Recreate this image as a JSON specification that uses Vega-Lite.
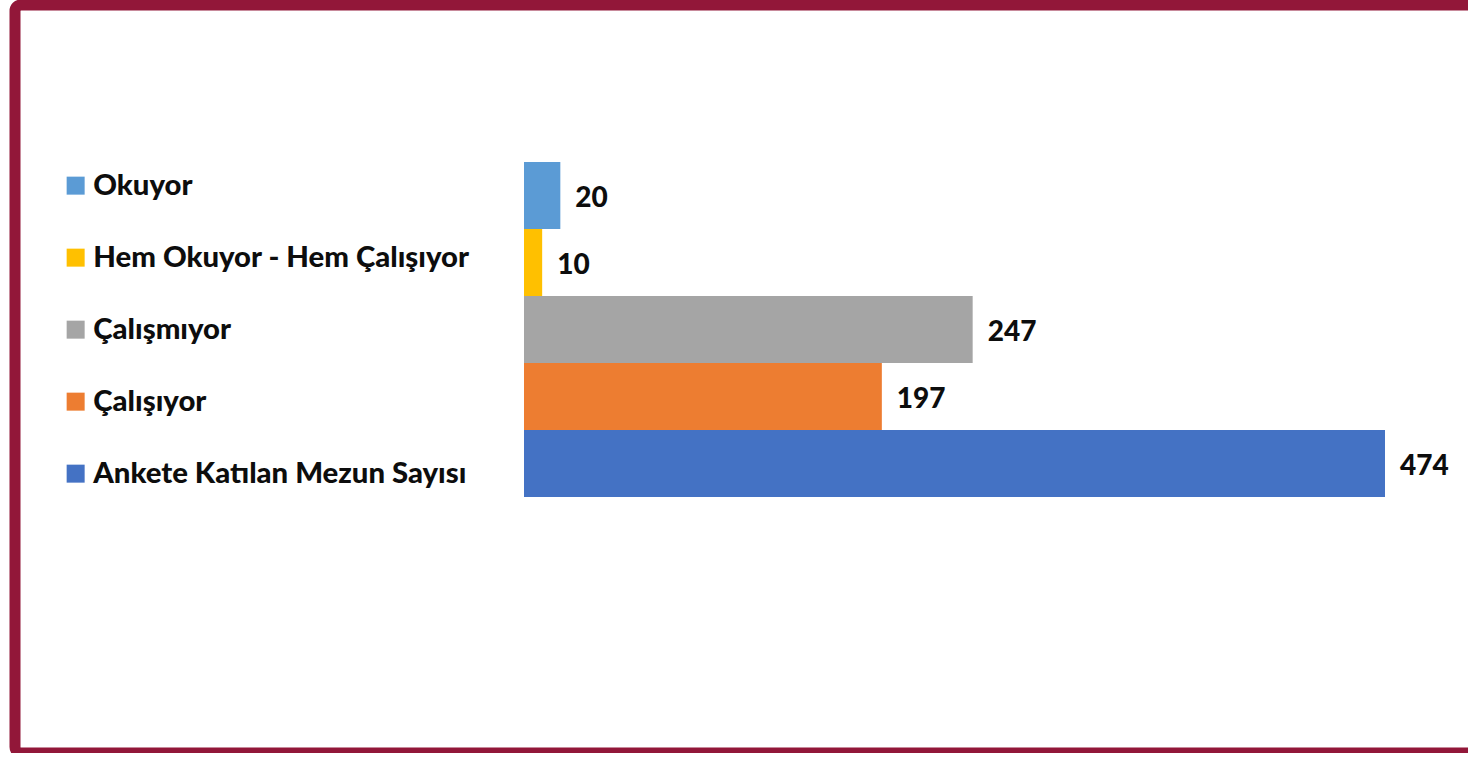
{
  "$schema": "https://vega.github.io/schema/vega-lite/v6.json",
  "autosize": {"type": "none"},
  "padding": {"left": 15, "top": 5, "right": 0, "bottom": 0},
  "width": 1470,
  "height": 748,
  "background": "white",
  "config": {
    "view": {"stroke": "#921739", "strokeWidth": 11, "cornerRadius": 6},
    "font": "Lato"
  },
  "data": {
    "values": [
      {"kategori": "Okuyor", "sayi": 20},
      {"kategori": "Hem Okuyor - Hem Çalışıyor", "sayi": 10},
      {"kategori": "Çalışmıyor", "sayi": 247},
      {"kategori": "Çalışıyor", "sayi": 197},
      {"kategori": "Ankete Katılan Mezun Sayısı", "sayi": 474}
    ]
  },
  "encoding": {
    "y": {
      "field": "kategori",
      "type": "nominal",
      "sort": ["Okuyor", "Hem Okuyor - Hem Çalışıyor", "Çalışmıyor", "Çalışıyor", "Ankete Katılan Mezun Sayısı"],
      "scale": {"range": [157, 492], "paddingInner": 0, "paddingOuter": 0},
      "axis": null
    },
    "x": {
      "field": "sayi",
      "type": "quantitative",
      "scale": {"range": [509, 1370], "nice": false, "zero": true},
      "axis": null
    }
  },
  "layer": [
    {
      "mark": {"type": "bar"},
      "encoding": {
        "color": {
          "field": "kategori",
          "type": "nominal",
          "sort": ["Okuyor", "Hem Okuyor - Hem Çalışıyor", "Çalışmıyor", "Çalışıyor", "Ankete Katılan Mezun Sayısı"],
          "scale": {
            "domain": ["Okuyor", "Hem Okuyor - Hem Çalışıyor", "Çalışmıyor", "Çalışıyor", "Ankete Katılan Mezun Sayısı"],
            "range": ["#5B9BD5", "#FFC000", "#A5A5A5", "#ED7D31", "#4472C4"]
          },
          "legend": {
            "orient": "none",
            "legendX": 46,
            "legendY": 166,
            "title": null,
            "symbolType": "square",
            "symbolSize": 324,
            "symbolStrokeWidth": 0,
            "labelFont": "Lato",
            "labelFontSize": 29.3,
            "labelFontWeight": 900,
            "labelColor": "#0d0d0d",
            "labelOffset": 3,
            "labelLimit": 600,
            "rowPadding": 42,
            "padding": 0
          }
        }
      }
    },
    {
      "mark": {"type": "text", "align": "left", "baseline": "middle", "dx": 15, "dy": 3, "font": "Lato", "fontSize": 28, "fontWeight": 900, "color": "#0d0d0d"},
      "encoding": {
        "text": {"field": "sayi", "type": "quantitative"}
      }
    }
  ]
}
